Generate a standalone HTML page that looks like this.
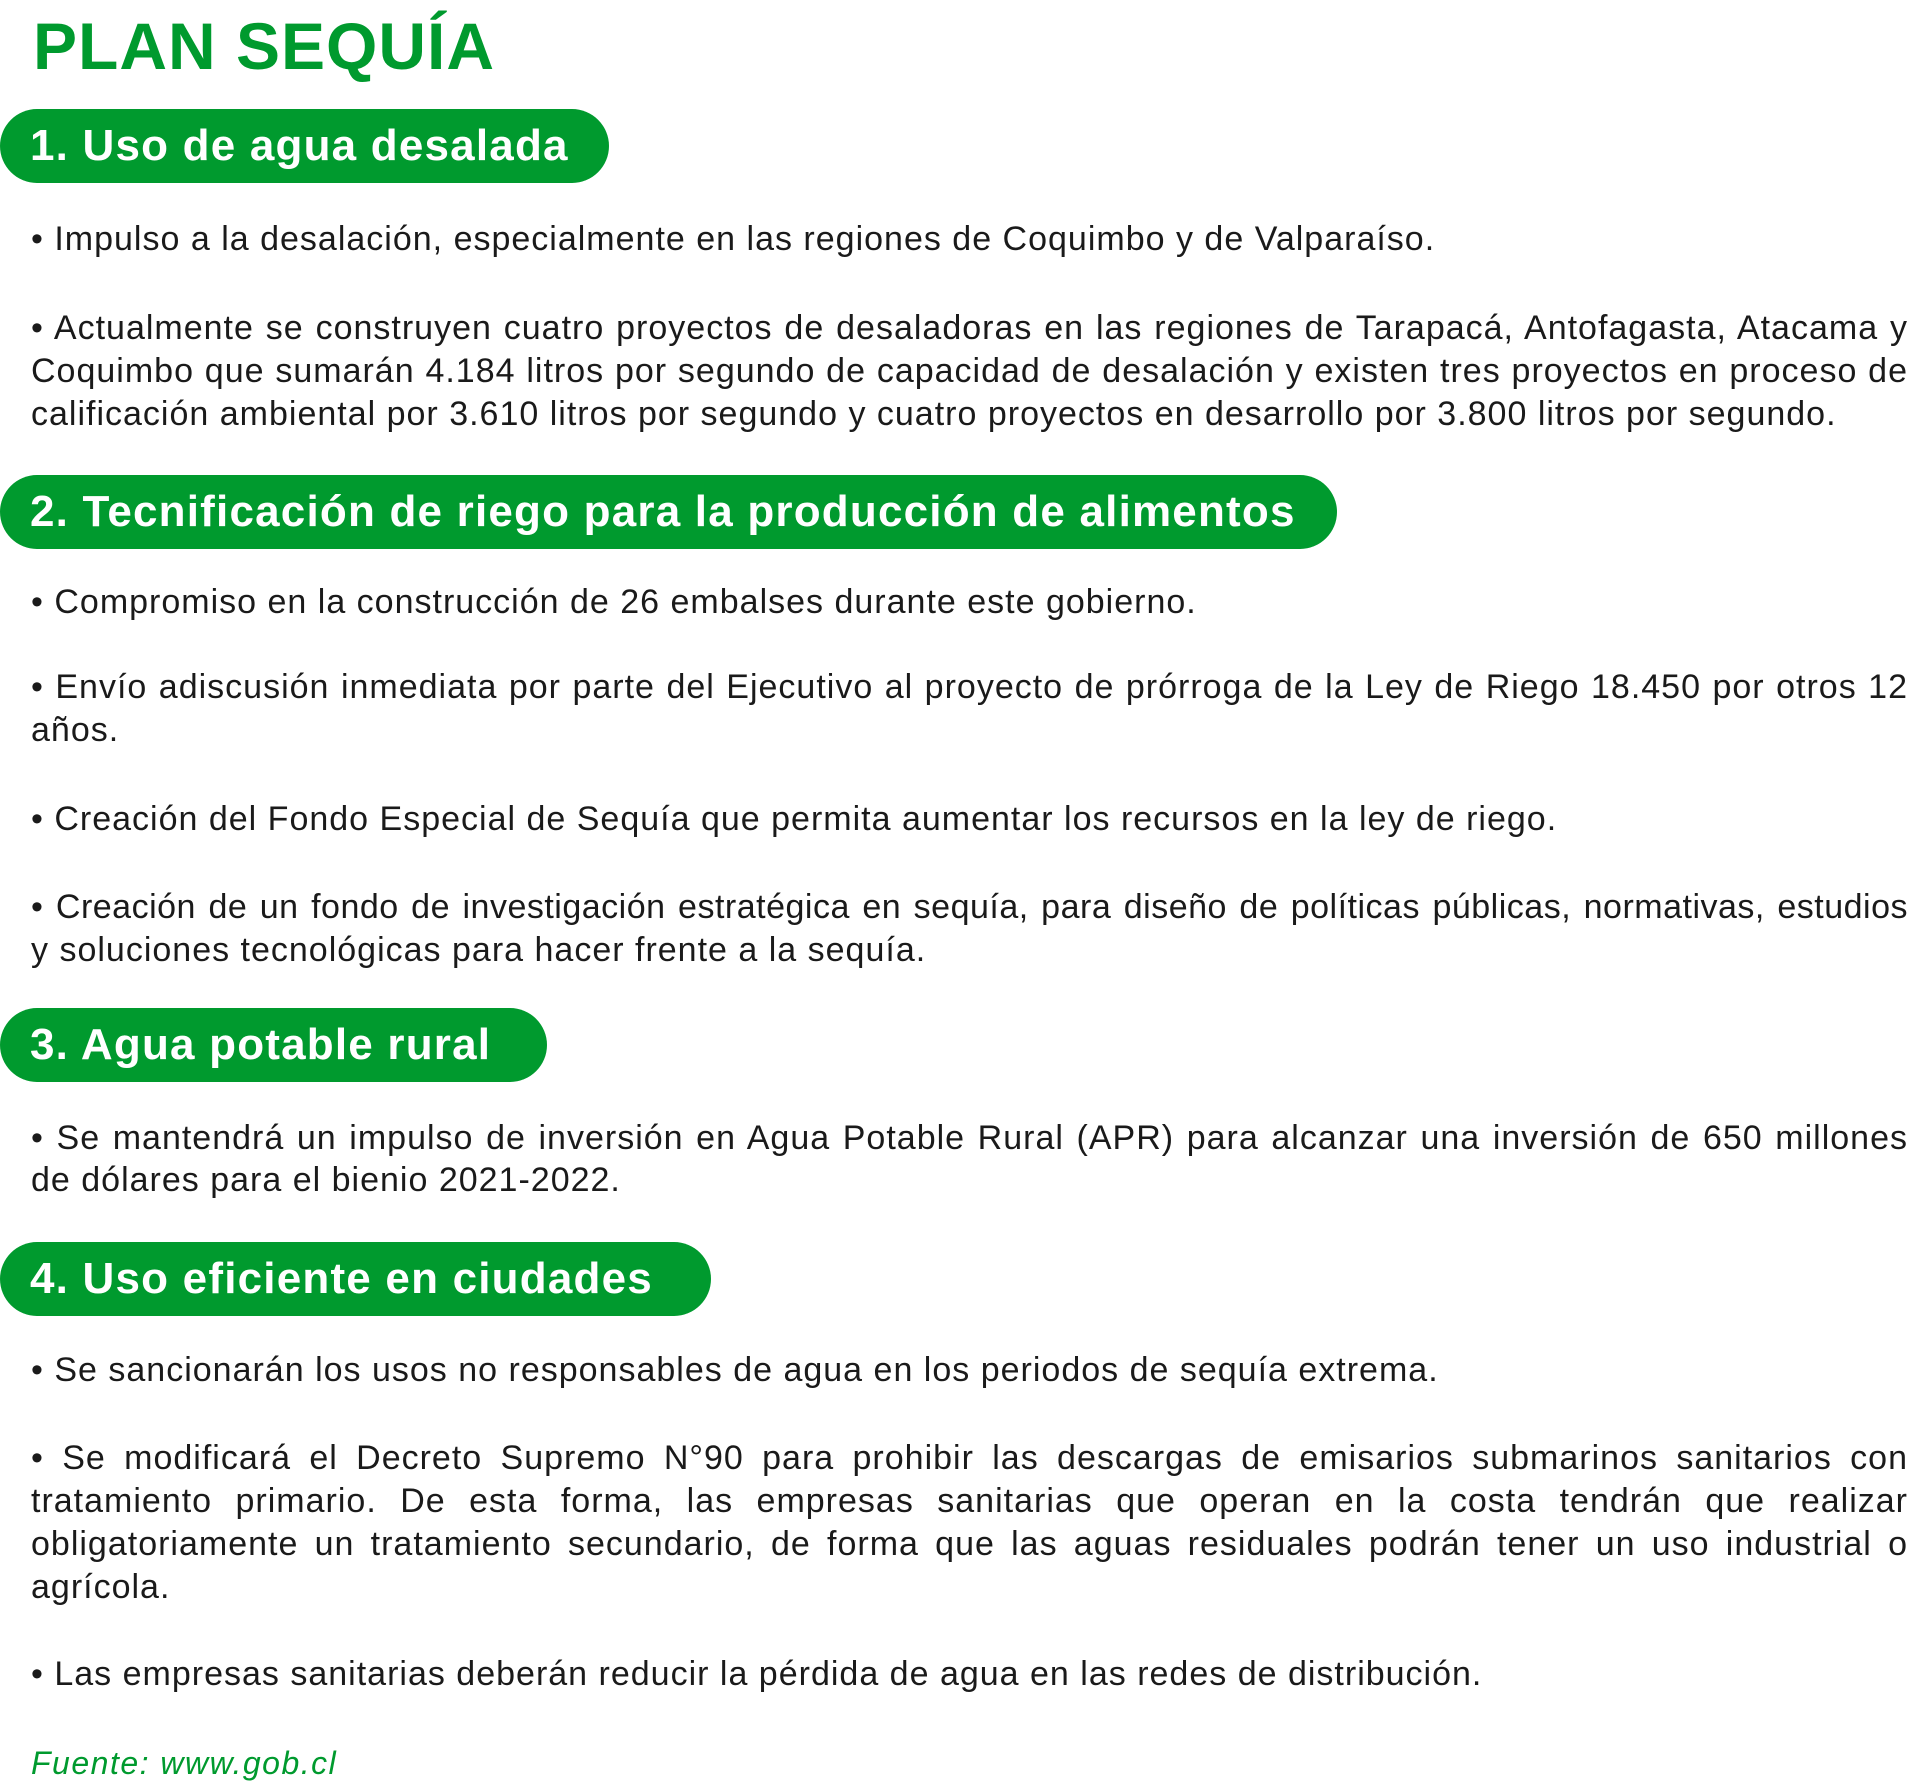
<!DOCTYPE html>
<html><head><meta charset="utf-8"><style>
html,body{margin:0;padding:0;background:#fff;}
body{width:1920px;height:1790px;position:relative;overflow:hidden;font-family:"Liberation Sans",sans-serif;color:#1a1a1a;}
.t{position:absolute;left:33px;top:6px;font-size:66px;font-weight:bold;color:#009a2e;letter-spacing:1px;line-height:80px;}
.p{position:absolute;left:0;height:74px;background:#009a2e;border-radius:37px;color:#fff;font-weight:bold;font-size:44px;letter-spacing:1.2px;line-height:74px;padding-left:30px;box-sizing:border-box;white-space:nowrap;}
.l{position:absolute;left:31px;width:1877px;font-size:34px;letter-spacing:1px;line-height:43px;height:43px;white-space:nowrap;}
.j{text-align:justify;text-align-last:justify;white-space:normal;}
.f{position:absolute;left:31px;top:1742px;font-size:32px;letter-spacing:1.5px;font-style:italic;color:#009a2e;line-height:43px;}
</style></head><body>
<div class="t">PLAN SEQUÍA</div>
<div class="p" style="top:109px;width:609px">1. Uso de agua desalada</div>
<div class="l" style="top:218px">• Impulso a la desalación, especialmente en las regiones de Coquimbo y de Valparaíso.</div>
<div class="l j" style="top:307px">• Actualmente se construyen cuatro proyectos de desaladoras en las regiones de Tarapacá, Antofagasta, Atacama y</div>
<div class="l j" style="top:350px">Coquimbo que sumarán 4.184 litros por segundo de capacidad de desalación y existen tres proyectos en proceso de</div>
<div class="l" style="top:393px">calificación ambiental por 3.610 litros por segundo y cuatro proyectos en desarrollo por 3.800 litros por segundo.</div>
<div class="p" style="top:475px;width:1337px">2. Tecnificación de riego para la producción de alimentos</div>
<div class="l" style="top:581px">• Compromiso en la construcción de 26 embalses durante este gobierno.</div>
<div class="l j" style="top:666px">• Envío adiscusión inmediata por parte del Ejecutivo al proyecto de prórroga de la Ley de Riego 18.450 por otros 12</div>
<div class="l" style="top:709px">años.</div>
<div class="l" style="top:798px">• Creación del Fondo Especial de Sequía que permita aumentar los recursos en la ley de riego.</div>
<div class="l j" style="top:886px;letter-spacing:0.5px">• Creación de un fondo de investigación estratégica en sequía, para diseño de políticas públicas, normativas, estudios</div>
<div class="l" style="top:929px">y soluciones tecnológicas para hacer frente a la sequía.</div>
<div class="p" style="top:1008px;width:547px">3. Agua potable rural</div>
<div class="l j" style="top:1117px">• Se mantendrá un impulso de inversión en Agua Potable Rural (APR) para alcanzar una inversión de 650 millones</div>
<div class="l" style="top:1159px">de dólares para el bienio 2021-2022.</div>
<div class="p" style="top:1242px;width:711px">4. Uso eficiente en ciudades</div>
<div class="l" style="top:1349px">• Se sancionarán los usos no responsables de agua en los periodos de sequía extrema.</div>
<div class="l j" style="top:1437px">• Se modificará el Decreto Supremo N°90 para prohibir las descargas de emisarios submarinos sanitarios con</div>
<div class="l j" style="top:1480px">tratamiento primario. De esta forma, las empresas sanitarias que operan en la costa tendrán que realizar</div>
<div class="l j" style="top:1523px">obligatoriamente un tratamiento secundario, de forma que las aguas residuales podrán tener un uso industrial o</div>
<div class="l" style="top:1566px">agrícola.</div>
<div class="l" style="top:1653px">• Las empresas sanitarias deberán reducir la pérdida de agua en las redes de distribución.</div>
<div class="f">Fuente: www.gob.cl</div>
</body></html>
